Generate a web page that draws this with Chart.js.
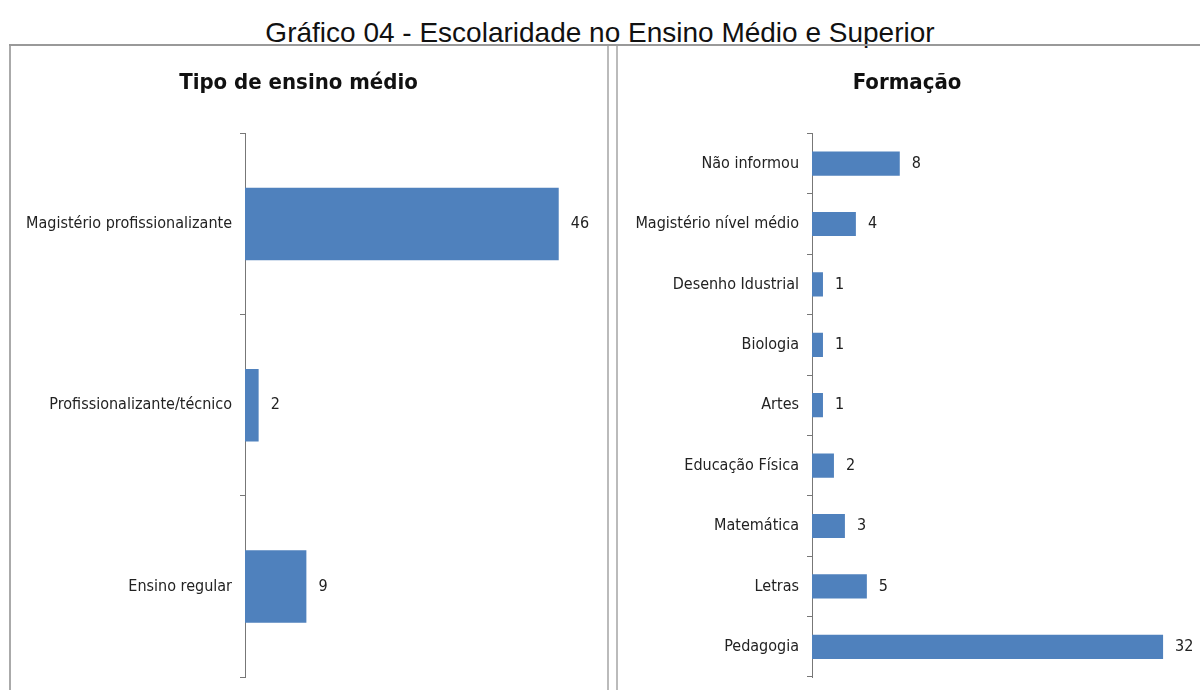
<!DOCTYPE html>
<html>
<head>
<meta charset="utf-8">
<script src="https://cdn.jsdelivr.net/npm/chart.js@4"></script>
<style>
  html, body { margin: 0; padding: 0; background: #fff; }
  body { width: 1200px; height: 690px; position: relative; overflow: hidden; }
  #pageTitle {
    position: absolute; left: 0; top: 16px; width: 1200px; text-align: center;
    font-family: "Liberation Sans", Arial, sans-serif; font-size: 28px; line-height: 34px; color: #111;
  }
  .frameTop { position: absolute; left: 9px; top: 44px; width: 1191px; height: 0; border-top: 2px solid #999; }
  .panel { position: absolute; top: 46px; height: 644px; }
  #leftPanel { left: 9px; width: 596px; border-left: 2px solid #aaa; border-right: 2px solid #bbb; }
  #rightPanel { left: 616px; width: 584px; border-left: 2px solid #bbb; }
  .panel canvas { display: block; }
</style>
</head>
<body>
<div id="pageTitle">Gráfico 04 - Escolaridade no Ensino Médio e Superior</div>
<div class="frameTop"></div>
<div class="panel" id="leftPanel"><canvas id="ensinoMedio" width="596" height="644"></canvas></div>
<div class="panel" id="rightPanel"><canvas id="formacao" width="582" height="644"></canvas></div>
<script>
const tipoLabels = ['Magistério profissionalizante', 'Profissionalizante/técnico', 'Ensino regular'];
const tipoValues = [46, 2, 9];

const formacaoLabels = ['Não informou', 'Magistério nível médio', 'Desenho Idustrial', 'Biologia', 'Artes',
  'Educação Física', 'Matemática', 'Letras', 'Pedagogia'];
const formacaoValues = [8, 4, 1, 1, 1, 2, 3, 5, 32];

const BAR_BLUE = '#4F81BD';
const LABEL_FONT = '"Liberation Sans Narrow", "DejaVu Sans Condensed", sans-serif';

// writes the count just past the end of each bar
const barValueLabels = {
  id: 'barValueLabels',
  afterDatasetsDraw(chart) {
    const ctx = chart.ctx;
    const meta = chart.getDatasetMeta(0);
    ctx.save();
    ctx.font = '16px ' + LABEL_FONT;
    ctx.fillStyle = '#222';
    ctx.textAlign = 'left';
    ctx.textBaseline = 'middle';
    meta.data.forEach((bar, i) => {
      ctx.fillText(String(chart.data.datasets[0].data[i]), bar.x + 12, bar.y);
    });
    ctx.restore();
  }
};

function makeChart(id, title, labels, values, opts) {
  return new Chart(document.getElementById(id), {
    type: 'bar',
    data: {
      labels: labels,
      datasets: [{ data: values, backgroundColor: BAR_BLUE, categoryPercentage: 1, barPercentage: 0.4 }]
    },
    options: {
      indexAxis: 'y',
      responsive: false,
      animation: false,
      layout: { padding: { left: 0, right: opts.padRight, top: 0, bottom: 13 } },
      plugins: {
        legend: { display: false },
        tooltip: { enabled: false },
        title: {
          display: true,
          text: title,
          color: '#111',
          font: { family: LABEL_FONT, size: 22, weight: 'bold' },
          padding: { top: 24, bottom: 37 }
        }
      },
      scales: {
        x: { display: false, min: 0, max: opts.xMax },
        y: {
          afterFit(scale) {
            // fixed axis position; labels sit between ticks so no extra end padding is needed
            scale.width = opts.axisWidth;
            scale.paddingTop = 0;
            scale.paddingBottom = 0;
          },
          grid: { drawOnChartArea: false, drawTicks: true, tickLength: 5, color: '#777', offset: true },
          border: { display: true, color: '#777', width: 1 },
          ticks: { color: '#222', padding: 8, font: { family: LABEL_FONT, size: 16 } }
        }
      }
    },
    plugins: [barValueLabels]
  });
}

makeChart('ensinoMedio', 'Tipo de ensino médio', tipoLabels, tipoValues, { axisWidth: 234, xMax: 50, padRight: 21 });
makeChart('formacao', 'Formação', formacaoLabels, formacaoValues, { axisWidth: 194, xMax: 35, padRight: 4 });
</script>
</body>
</html>
